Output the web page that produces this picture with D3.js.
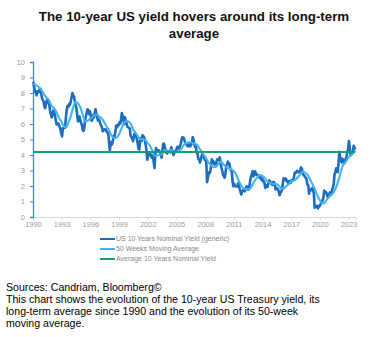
<!DOCTYPE html>
<html>
<head>
<meta charset="utf-8">
<script src="https://cdn.jsdelivr.net/npm/d3@7/dist/d3.min.js"></script>
<style>
  html, body { margin: 0; padding: 0; background: #fff; }
  svg { display: block; font-family: "Liberation Sans", Arial, sans-serif; }
</style>
</head>
<body>
<svg id="chart" width="388" height="337"></svg>
<script>
// US 10-year nominal yield, monthly readings from Oct 1990 to Jun 2024 (%)
const yieldStart = "1990-10";
const yieldValues = [
  8.72, 8.39, 8.08,
  8.09, 7.85, 8.11, 8.04, 8.07, 8.28, 8.27, 7.90, 7.65, 7.53, 7.42, 7.09,
  7.03, 7.34, 7.54, 7.48, 7.39, 7.26, 6.84, 6.59, 6.42, 6.59, 6.87, 6.77,
  6.60, 6.26, 5.98, 5.97, 6.04, 5.96, 5.81, 5.68, 5.36, 5.20, 5.72, 5.77,
  5.75, 5.97, 6.48, 6.97, 7.18, 7.10, 7.30, 7.24, 7.46, 7.74, 8.00, 7.81,
  7.78, 7.47, 7.20, 7.06, 6.63, 6.17, 6.28, 6.49, 6.20, 6.04, 5.93, 5.60,
  5.55, 5.81, 6.27, 6.51, 6.74, 6.95, 6.87, 6.64, 6.83, 6.53, 6.20, 6.30,
  6.58, 6.42, 6.69, 6.95, 6.71, 6.49, 6.22, 6.30, 6.21, 6.03, 5.88, 5.81,
  5.54, 5.57, 5.65, 5.64, 5.65, 5.50, 5.46, 5.34, 4.81, 4.30, 4.83, 4.65,
  4.72, 5.00, 5.23, 5.18, 5.54, 5.90, 5.79, 5.94, 5.92, 6.11, 6.03, 6.28,
  6.70, 6.52, 6.26, 5.99, 6.44, 6.10, 6.05, 5.83, 5.80, 5.74, 5.72, 5.24,
  5.16, 5.10, 4.89, 5.14, 5.39, 5.28, 5.24, 4.97, 4.73, 4.40, 4.35, 5.09,
  5.04, 4.91, 5.28, 5.21, 5.16, 4.93, 4.65, 4.26, 3.70, 3.94, 4.05, 4.03,
  4.05, 3.90, 3.81, 3.96, 3.57, 3.15, 3.98, 4.45, 4.27, 4.29, 4.30, 4.27,
  4.15, 4.08, 3.83, 4.35, 4.72, 4.73, 4.50, 4.28, 4.13, 4.10, 4.19, 4.23,
  4.22, 4.17, 4.50, 4.34, 4.14, 4.00, 4.18, 4.26, 4.20, 4.46, 4.54, 4.47,
  4.42, 4.57, 4.72, 4.99, 5.15, 5.11, 5.09, 4.88, 4.72, 4.73, 4.60, 4.56,
  4.76, 4.72, 4.56, 4.69, 4.75, 5.15, 5.00, 4.67, 4.52, 4.53, 4.15, 4.10,
  3.74, 3.74, 3.51, 3.68, 3.88, 4.10, 4.01, 3.89, 3.69, 3.81, 3.53, 2.25,
  2.52, 2.87, 2.82, 2.93, 3.29, 3.72, 3.56, 3.59, 3.40, 3.39, 3.40, 3.59,
  3.73, 3.69, 3.73, 3.85, 3.42, 3.20, 3.01, 2.70, 2.65, 2.54, 2.76, 3.29,
  3.39, 3.58, 3.41, 3.46, 3.17, 3.00, 3.00, 2.30, 1.98, 2.15, 2.01, 1.98,
  1.97, 1.97, 2.17, 2.05, 1.80, 1.62, 1.45, 1.68, 1.72, 1.75, 1.65, 1.72,
  1.91, 1.98, 1.96, 1.76, 1.93, 2.30, 2.58, 2.74, 2.95, 2.62, 2.72, 2.95,
  2.86, 2.71, 2.72, 2.71, 2.56, 2.60, 2.54, 2.42, 2.53, 2.30, 2.33, 2.21,
  1.88, 1.98, 2.04, 1.94, 2.20, 2.36, 2.32, 2.17, 2.17, 2.07, 2.26, 2.24,
  2.09, 1.78, 1.89, 1.81, 1.81, 1.64, 1.40, 1.56, 1.63, 1.76, 2.14, 2.49,
  2.43, 2.42, 2.48, 2.30, 2.30, 2.19, 2.32, 2.21, 2.20, 2.36, 2.35, 2.40,
  2.58, 2.86, 2.84, 2.87, 2.98, 2.91, 2.89, 2.89, 3.00, 3.20, 3.12, 2.83,
  2.71, 2.68, 2.57, 2.53, 2.40, 2.07, 2.06, 1.50, 1.70, 1.71, 1.81, 1.86,
  1.76, 1.50, 0.60, 0.66, 0.67, 0.73, 0.55, 0.65, 0.68, 0.79, 0.87, 0.93,
  1.08, 1.26, 1.70, 1.64, 1.62, 1.52, 1.32, 1.28, 1.37, 1.58, 1.56, 1.47,
  1.76, 1.93, 2.13, 2.75, 2.90, 3.14, 2.90, 2.90, 3.52, 4.20, 3.89, 3.62,
  3.53, 3.75, 3.66, 3.46, 3.57, 3.75, 3.90, 4.17, 4.38, 4.90, 4.50, 4.02,
  4.06, 4.21, 4.21, 4.60, 4.48, 4.35
];

// 50-week moving average, read at quarter ends (%)
const maDates = [
  "1990-10", "1990-12",
  "1991-03", "1991-06", "1991-09", "1991-12",
  "1992-03", "1992-06", "1992-09", "1992-12",
  "1993-03", "1993-06", "1993-09", "1993-12",
  "1994-03", "1994-06", "1994-09", "1994-12",
  "1995-03", "1995-06", "1995-09", "1995-12",
  "1996-03", "1996-06", "1996-09", "1996-12",
  "1997-03", "1997-06", "1997-09", "1997-12",
  "1998-03", "1998-06", "1998-09", "1998-12",
  "1999-03", "1999-06", "1999-09", "1999-12",
  "2000-03", "2000-06", "2000-09", "2000-12",
  "2001-03", "2001-06", "2001-09", "2001-12",
  "2002-03", "2002-06", "2002-09", "2002-12",
  "2003-03", "2003-06", "2003-09", "2003-12",
  "2004-03", "2004-06", "2004-09", "2004-12",
  "2005-03", "2005-06", "2005-09", "2005-12",
  "2006-03", "2006-06", "2006-09", "2006-12",
  "2007-03", "2007-06", "2007-09", "2007-12",
  "2008-03", "2008-06", "2008-09", "2008-12",
  "2009-03", "2009-06", "2009-09", "2009-12",
  "2010-03", "2010-06", "2010-09", "2010-12",
  "2011-03", "2011-06", "2011-09", "2011-12",
  "2012-03", "2012-06", "2012-09", "2012-12",
  "2013-03", "2013-06", "2013-09", "2013-12",
  "2014-03", "2014-06", "2014-09", "2014-12",
  "2015-03", "2015-06", "2015-09", "2015-12",
  "2016-03", "2016-06", "2016-09", "2016-12",
  "2017-03", "2017-06", "2017-09", "2017-12",
  "2018-03", "2018-06", "2018-09", "2018-12",
  "2019-03", "2019-06", "2019-09", "2019-12",
  "2020-03", "2020-06", "2020-09", "2020-12",
  "2021-03", "2021-06", "2021-09", "2021-12",
  "2022-03", "2022-06", "2022-09", "2022-12",
  "2023-03", "2023-06", "2023-09", "2023-12",
  "2024-03", "2024-06"
];
const maValues = [
  8.62, 8.55,
  8.45, 8.31, 8.12, 7.86,
  7.68, 7.49, 7.16, 7.01,
  6.76, 6.41, 6.16, 5.88,
  5.78, 6.10, 6.52, 7.08,
  7.43, 7.32, 7.07, 6.58,
  6.19, 6.21, 6.33, 6.44,
  6.60, 6.60, 6.46, 6.35,
  6.11, 5.84, 5.58, 5.27,
  5.11, 5.10, 5.27, 5.64,
  6.01, 6.17, 6.17, 6.03,
  5.67, 5.45, 5.22, 5.02,
  5.03, 4.98, 4.80, 4.61,
  4.32, 3.95, 3.95, 4.02,
  4.04, 4.29, 4.30, 4.27,
  4.34, 4.23, 4.21, 4.29,
  4.36, 4.59, 4.76, 4.79,
  4.82, 4.77, 4.72, 4.63,
  4.38, 4.14, 3.92, 3.67,
  3.44, 3.29, 3.21, 3.26,
  3.50, 3.55, 3.37, 3.22,
  3.15, 3.08, 2.99, 2.79,
  2.43, 2.09, 1.89, 1.80,
  1.78, 1.83, 2.09, 2.35,
  2.56, 2.71, 2.66, 2.54,
  2.34, 2.23, 2.16, 2.14,
  2.13, 2.02, 1.86, 1.84,
  1.97, 2.10, 2.27, 2.33,
  2.41, 2.57, 2.75, 2.91,
  2.88, 2.74, 2.45, 2.14,
  1.83, 1.42, 1.13, 0.90,
  0.88, 1.11, 1.27, 1.44,
  1.60, 1.93, 2.38, 2.95,
  3.38, 3.55, 3.81, 3.96,
  4.09, 4.30
];

// Long-term average of the 10-year yield since 1990 (%)
const longTermAverage = 4.2;

// Axis labels
const yTicks = [0, 1, 2, 3, 4, 5, 6, 7, 8, 9, 10];
const xTickYears = [1990, 1993, 1996, 1999, 2002, 2005, 2008, 2011, 2014, 2017, 2020, 2023];

const titleLines = ["The 10-year US yield hovers around its long-term", "average"];
const legendLabels = [
  "US 10 Years Nominal Yield (generic)",
  "50 Weeks Moving Average",
  "Average 10 Years Nominal Yield"
];
const footerLines = [
  "Sources: Candriam, Bloomberg\u00A9",
  "This chart shows the evolution of the 10-year US Treasury yield, its",
  "long-term average since 1990 and the evolution of its 50-week",
  "moving average."
];

const colors = {
  yield: "#1f6cbf",
  ma: "#3db5ee",
  avg: "#17a06c",
  yAxis: "#3a8ad6",
  xAxis: "#d9d9d9",
  tickText: "#9a9ea3",
  legendText: "#8a8a8a"
};

const svg = d3.select("#chart");
const parseMonth = d3.timeParse("%Y-%m");

const startMonth = parseMonth(yieldStart);
const yieldData = yieldValues.map((v, i) => ({
  date: d3.timeDay.offset(d3.timeMonth.offset(startMonth, i), 14),
  value: v
}));
const maData = maDates.map((d, i) => ({
  date: d3.timeDay.offset(parseMonth(d), 14),
  value: maValues[i]
}));

// Scales: plot area spans x 33..356, y 62..217
const x = d3.scaleTime()
  .domain([new Date(1990, 9, 1), new Date(2024, 6, 1)])
  .range([33, 355.7]);
const y = d3.scaleLinear().domain([0, 10]).range([217, 62]);

// Title
svg.append("g")
  .selectAll("text")
  .data(titleLines)
  .join("text")
  .attr("x", 194)
  .attr("y", (d, i) => 21 + i * 17)
  .attr("text-anchor", "middle")
  .attr("font-size", "13.3px")
  .attr("font-weight", "bold")
  .attr("fill", "#111")
  .text(d => d);

// X axis
const xAxis = d3.axisBottom(x)
  .tickValues(xTickYears.map(yr => new Date(yr, 9, 1)))
  .tickFormat(d3.timeFormat("%Y"))
  .tickSize(3)
  .tickPadding(2);
const gx = svg.append("g")
  .attr("transform", "translate(0,217)")
  .call(xAxis);
gx.select(".domain").attr("stroke", colors.xAxis).attr("stroke-width", 1);
gx.selectAll(".tick line").attr("stroke", colors.xAxis);
gx.selectAll(".tick text")
  .attr("fill", colors.tickText)
  .attr("font-size", "7.5px")
  .attr("font-family", "'Liberation Sans', Arial, sans-serif");

// Y axis
const yAxis = d3.axisLeft(y)
  .tickValues(yTicks)
  .tickFormat(d3.format("d"))
  .tickSize(3)
  .tickPadding(5);
const gy = svg.append("g")
  .attr("transform", "translate(33,0)")
  .call(yAxis);
gy.select(".domain").attr("stroke", colors.yAxis).attr("stroke-width", 1.3);
gy.selectAll(".tick line").attr("stroke", colors.yAxis);
gy.selectAll(".tick text")
  .attr("fill", colors.tickText)
  .attr("font-size", "7.5px")
  .attr("font-family", "'Liberation Sans', Arial, sans-serif");

// Series lines
const line = d3.line()
  .x(d => x(d.date))
  .y(d => y(d.value));

svg.append("path")
  .datum(yieldData)
  .attr("fill", "none")
  .attr("stroke", colors.yield)
  .attr("stroke-width", 2.6)
  .attr("stroke-linejoin", "round")
  .attr("d", line);

svg.append("path")
  .datum(maData)
  .attr("fill", "none")
  .attr("stroke", colors.ma)
  .attr("stroke-width", 2.1)
  .attr("stroke-linejoin", "round")
  .attr("d", line.curve(d3.curveMonotoneX));

// Long-term average line
const avgData = [
  { date: x.domain()[0], value: longTermAverage },
  { date: yieldData[yieldData.length - 1].date, value: longTermAverage }
];
svg.append("path")
  .datum(avgData)
  .attr("fill", "none")
  .attr("stroke", colors.avg)
  .attr("stroke-width", 2)
  .attr("d", d3.line().x(d => x(d.date)).y(d => y(d.value)));

// Legend
const legend = svg.append("g").attr("transform", "translate(100,239)");
const legendColors = [colors.yield, colors.ma, colors.avg];
const rows = legend.selectAll("g")
  .data(legendLabels)
  .join("g")
  .attr("transform", (d, i) => `translate(0,${i * 10})`);
rows.append("line")
  .attr("x1", 0).attr("x2", 15)
  .attr("y1", 0).attr("y2", 0)
  .attr("stroke", (d, i) => legendColors[i])
  .attr("stroke-width", 2);
rows.append("text")
  .attr("x", 16)
  .attr("y", 0)
  .attr("dy", "0.35em")
  .attr("font-size", "7px")
  .attr("fill", colors.legendText)
  .text(d => d);

// Footer notes
svg.append("g")
  .selectAll("text")
  .data(footerLines)
  .join("text")
  .attr("x", 6)
  .attr("y", (d, i) => 291 + i * 12)
  .attr("font-size", "10.6px")
  .attr("fill", "#000")
  .text(d => d);
</script>
</body>
</html>
